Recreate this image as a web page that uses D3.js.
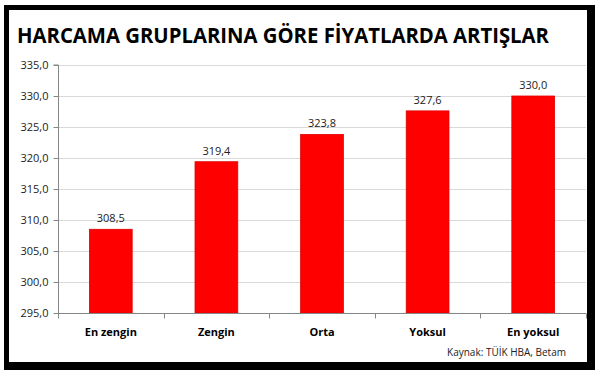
<!DOCTYPE html>
<html>
<head>
<meta charset="utf-8">
<script src="https://cdn.jsdelivr.net/npm/d3@7"></script>
<style>
  body { margin: 0; background: #fff; }
  svg { display: block; }
</style>
</head>
<body>
<svg id="chart" width="600" height="370"></svg>
<script>
// ***** Data ***** //
var categories = ['En zengin', 'Zengin', 'Orta', 'Yoksul', 'En yoksul'];
var values = [308.5, 319.4, 323.8, 327.6, 330.0];
var yTicks = [295, 300, 305, 310, 315, 320, 325, 330, 335];

var svg = d3.select('#chart'),
    width = +svg.attr('width'),
    height = +svg.attr('height');

var fmt = function(v) { return d3.format('.1f')(v).replace('.', ','); };

// ***** Frame ***** //
svg.append('rect').attr('x', 4).attr('y', 5).attr('width', 591).attr('height', 365).attr('fill', '#000');
svg.append('rect').attr('x', 9).attr('y', 10).attr('width', 578).attr('height', 352).attr('fill', '#fff');

// ***** Title ***** //
svg.append('text')
    .attr('x', 17).attr('y', 43)
    .attr('font-family', 'Open Sans, sans-serif')
    .attr('font-weight', 'bold')
    .attr('font-size', 21)
    .attr('textLength', 532)
    .attr('lengthAdjust', 'spacingAndGlyphs')
    .attr('fill', '#000')
    .text('HARCAMA GRUPLARINA GÖRE FİYATLARDA ARTIŞLAR');

// ***** Scales ***** //
var margin = {left: 58, right: 586, top: 65, bottom: 313};

var x = d3.scaleBand()
    .domain(categories)
    .range([margin.left, margin.right])
    .paddingInner(0.595)
    .paddingOuter(0.2975);

var y = d3.scaleLinear()
    .domain([295, 335])
    .range([margin.bottom, margin.top]);

// ***** Gridlines ***** //
svg.append('g')
    .selectAll('line')
    .data(yTicks.slice(1))
    .enter()
    .append('line')
    .attr('x1', margin.left).attr('x2', margin.right)
    .attr('y1', d => Math.round(y(d)) + 0.5).attr('y2', d => Math.round(y(d)) + 0.5)
    .attr('stroke', '#d9d9d9')
    .attr('stroke-width', 1);

// ***** Y axis ***** //
var yAxis = svg.append('g')
    .attr('transform', 'translate(' + (margin.left + 0.5) + ',0)')
    .call(d3.axisLeft(y).tickValues(yTicks).tickFormat(fmt).tickSize(5).tickPadding(5));
yAxis.select('.domain').attr('stroke', '#868686').attr('d', 'M-5,' + margin.top + 'H0V' + margin.bottom);
yAxis.selectAll('.tick line').attr('stroke', '#868686');
yAxis.selectAll('.tick text')
    .attr('font-family', 'Open Sans, sans-serif')
    .attr('font-size', 11)
    .attr('fill', '#222');

// ***** Bars ***** //
svg.append('g')
    .selectAll('rect')
    .data(values)
    .enter()
    .append('rect')
    .attr('x', (d, i) => x(categories[i]))
    .attr('y', d => y(d))
    .attr('width', x.bandwidth())
    .attr('height', d => y(295) - y(d))
    .attr('fill', '#ff0000')
    .attr('stroke', '#e00000')
    .attr('stroke-width', 0.8);

// ***** Value labels ***** //
svg.append('g')
    .selectAll('text')
    .data(values)
    .enter()
    .append('text')
    .attr('x', (d, i) => x(categories[i]) + x.bandwidth() / 2)
    .attr('y', d => y(d) - 7)
    .attr('text-anchor', 'middle')
    .attr('font-family', 'Open Sans, sans-serif')
    .attr('font-size', 11)
    .attr('fill', '#222')
    .text(fmt);

// ***** X axis ***** //
var step = x.step();
var xAxis = svg.append('g')
    .attr('transform', 'translate(0,' + (margin.bottom + 0.5) + ')');
xAxis.append('line')
    .attr('x1', margin.left).attr('x2', margin.right)
    .attr('stroke', '#868686');
xAxis.selectAll('.xtick')
    .data(d3.range(categories.length + 1))
    .enter()
    .append('line')
    .attr('class', 'xtick')
    .attr('x1', i => Math.round(margin.left + i * step) + 0.5)
    .attr('x2', i => Math.round(margin.left + i * step) + 0.5)
    .attr('y1', 0).attr('y2', 5)
    .attr('stroke', '#868686');
xAxis.selectAll('.xlabel')
    .data(categories)
    .enter()
    .append('text')
    .attr('class', 'xlabel')
    .attr('x', d => x(d) + x.bandwidth() / 2)
    .attr('y', 22)
    .attr('text-anchor', 'middle')
    .attr('font-family', 'Open Sans, sans-serif')
    .attr('font-weight', 'bold')
    .attr('font-size', 11)
    .attr('fill', '#000')
    .text(d => d);

// ***** Source ***** //
svg.append('text')
    .attr('x', 566).attr('y', 356)
    .attr('text-anchor', 'end')
    .attr('font-family', 'Open Sans, sans-serif')
    .attr('font-size', 10)
    .attr('fill', '#222')
    .text('Kaynak: TÜİK HBA, Betam');
</script>
</body>
</html>
